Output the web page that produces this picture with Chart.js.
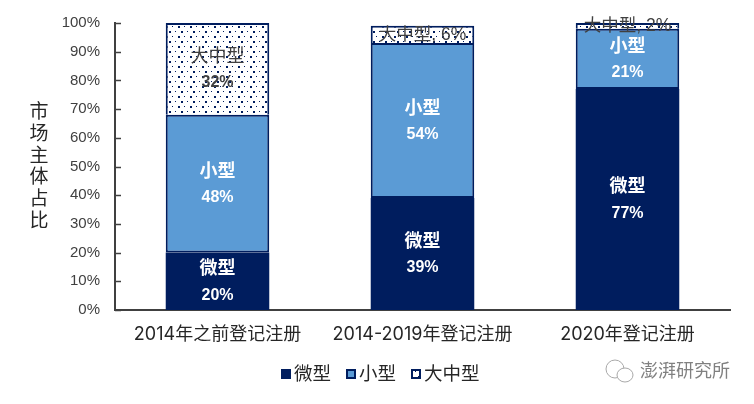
<!DOCTYPE html>
<html><head><meta charset="utf-8">
<style>html,body{margin:0;padding:0;background:#fff}canvas{display:block}</style>
<script src="https://cdn.jsdelivr.net/npm/chart.js@4"></script>
</head><body><canvas id="c" width="754" height="404"></canvas>
<script>
const categories = ['2014年之前登记注册', '2014-2019年登记注册', '2020年登记注册'];
const micro = [20, 39, 77];
const small = [48, 54, 21];
const large = [32, 6, 2];
const seriesNames = ['微型', '小型', '大中型'];
const yTicks = [0,10,20,30,40,50,60,70,80,90,100];
const yTitle = '市场主体占比';
const watermark = '澎湃研究所';

const FONT = '"Liberation Sans","Noto Sans CJK SC",sans-serif';
const CATFONT = 'Inter,"Noto Sans CJK SC",sans-serif';
const NAVY = '#001D5E', BLUE = '#5B9BD5';

function dots(){
  const p = document.createElement('canvas'); p.width = 12; p.height = 10;
  const x = p.getContext('2d');
  x.fillStyle = '#fff'; x.fillRect(0,0,12,10);
  x.fillStyle = NAVY;
  x.fillRect(1,1,2,2); x.fillRect(7,1,1,1); x.fillRect(4,6,1,1); x.fillRect(10,6,2,2);
  return x.createPattern(p,'repeat');
}
const pattern = dots();

const decor = {
  id:'decor',
  afterDatasetsDraw(chart){
    const {ctx, scales:{y}} = chart;
    ctx.save();
    // inward ticks
    ctx.strokeStyle = '#404040'; ctx.lineWidth = 1.5;
    yTicks.forEach(v=>{const py=Math.round(y.getPixelForValue(v))+.5;ctx.beginPath();ctx.moveTo(y.right,py);ctx.lineTo(y.right+6,py);ctx.stroke();});
    // value labels
    ctx.textAlign='center'; ctx.textBaseline='middle';
    chart.data.datasets.forEach((ds,di)=>{
      chart.getDatasetMeta(di).data.forEach((bar,i)=>{
        const v = ds.data[i], cy = (bar.y+bar.base)/2, cx = bar.x;
        if(di===2){
          ctx.fillStyle='#404040';
          if(v<10){ ctx.font='17.5px '+FONT; ctx.fillText(ds.label+', '+v+'%',cx,cy+(v<5?0:1)); }
          else { ctx.font='18px '+FONT; ctx.fillText(ds.label,cx,cy-12); ctx.font='bold 16px '+FONT; ctx.fillText(v+'%',cx,cy+14); }
        } else {
          ctx.fillStyle='#fff';
          ctx.font='bold 18px '+FONT; ctx.fillText(ds.label,cx,cy-12);
          ctx.font='bold 16px '+FONT; ctx.fillText(v+'%',cx,cy+14);
        }
      });
    });
    // y title, stacked vertical
    ctx.fillStyle='#262626'; ctx.font='19px '+FONT;
    [...yTitle].forEach((ch,i)=>ctx.fillText(ch,39,113+i*21.7));
    // legend
    ctx.textAlign='left';
    let lx = 281;
    chart.data.datasets.forEach(ds=>{
      ctx.fillStyle = ds.backgroundColor; ctx.strokeStyle = NAVY; ctx.lineWidth=2;
      ctx.fillRect(lx+1,370,8,8); ctx.strokeRect(lx+1,370,8,8);
      ctx.fillStyle='#262626'; ctx.font='18.5px '+FONT;
      ctx.fillText(ds.label,lx+13,375);
      lx += 13 + ctx.measureText(ds.label).width + 15;
    });
    // watermark
    ctx.fillStyle='#808080'; ctx.font='18px '+FONT;
    ctx.fillText(watermark,640,372);
    ctx.strokeStyle='#a8a8a8'; ctx.lineWidth=1;
    ctx.beginPath(); ctx.ellipse(615,369,9,9,0,0,Math.PI*2); ctx.stroke();
    ctx.fillStyle='#fff';
    ctx.beginPath(); ctx.ellipse(625,375,8,7,0,0,Math.PI*2); ctx.fill(); ctx.stroke();
    ctx.restore();
  }
};

new Chart(document.getElementById('c'),{
  type:'bar',
  data:{labels:categories,datasets:[
    {label:seriesNames[0],data:micro,backgroundColor:NAVY,borderColor:NAVY,borderWidth:0},
    {label:seriesNames[1],data:small,backgroundColor:BLUE,borderColor:NAVY,borderSkipped:false,borderWidth:{top:2,left:2,right:2,bottom:2}},
    {label:seriesNames[2],data:large,backgroundColor:pattern,borderColor:NAVY,borderSkipped:false,borderWidth:{top:2,left:2,right:2,bottom:0}}
  ]},
  options:{
    responsive:false,animation:false,devicePixelRatio:1,
    layout:{padding:{left:0,right:24,top:23,bottom:0}},
    datasets:{bar:{barPercentage:0.505,categoryPercentage:1}},
    plugins:{tooltip:{enabled:false},legend:{display:false}},
    scales:{
      x:{stacked:true,afterFit(s){s.height=94;},grid:{display:false},border:{color:'#404040',width:2},
         ticks:{color:'#262626',maxRotation:0,padding:6,font:{size:18,family:CATFONT}}},
      y:{stacked:true,min:0,max:100,afterFit(s){s.width=115;},
         afterBuildTicks(s){s.ticks=yTicks.map(v=>({value:v}));},
         grid:{display:false},border:{color:'#404040',width:2},
         ticks:{color:'#404040',padding:7,font:{size:15,family:FONT},callback:v=>v+'%'}}
    }
  },
  plugins:[decor]
});
</script></body></html>
